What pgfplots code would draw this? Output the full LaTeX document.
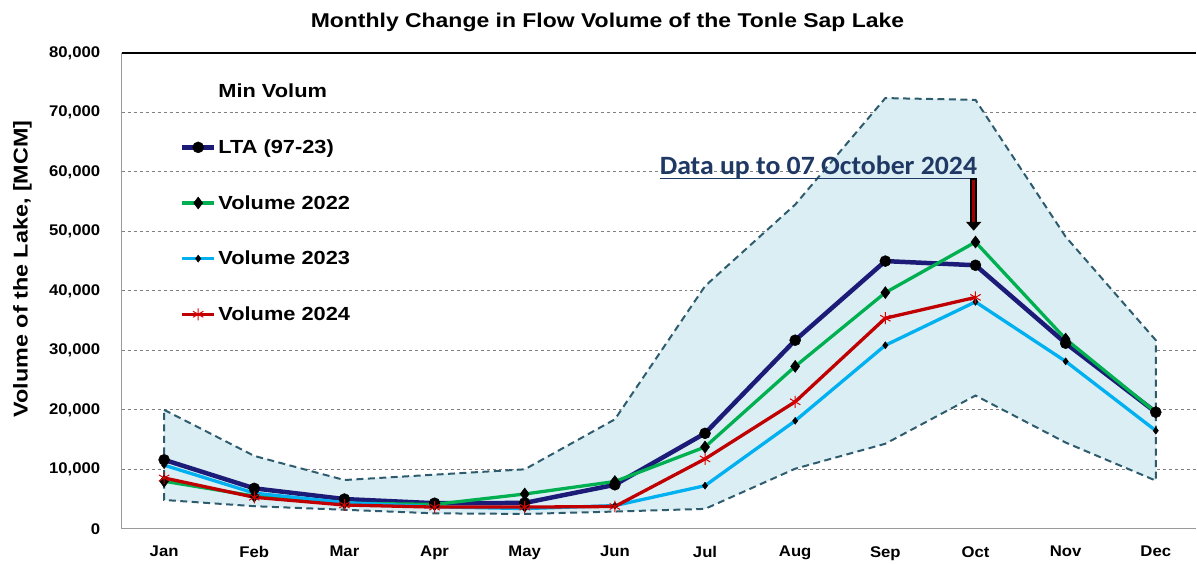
\documentclass[border=0pt]{standalone}
\usepackage{fontspec}
\setmainfont{Liberation Sans}
\newfontfamily\titlefont{Liberation Sans}[FakeStretch=1.15]
\newfontfamily\legfont{Liberation Sans}[FakeStretch=1.15]
\newfontfamily\ylabfont{Liberation Sans}[FakeStretch=1.17]
\newfontfamily\tickfont{Liberation Sans}[FakeStretch=1.08]
\newfontfamily\annfont{Carlito}[FakeStretch=1.05]
\usepackage{pgfplots}
\pgfplotsset{compat=1.18}
\usetikzlibrary{arrows.meta}
\definecolor{bandfill}{HTML}{DAEEF3}
\definecolor{banddash}{HTML}{2E5C6E}
\definecolor{ltacol}{HTML}{1C1C78}
\definecolor{c2022}{HTML}{00B050}
\definecolor{c2023}{HTML}{00B0F0}
\definecolor{c2024}{HTML}{C00000}
\definecolor{annot}{HTML}{1F3864}
\definecolor{arrred}{HTML}{A00000}
\begin{document}
\begin{tikzpicture}
\begin{axis}[
  scale only axis, width=1077pt, height=477pt,
  xmin=-0.47, xmax=11.45, ymin=0, ymax=80000,
  axis x line*=bottom, axis y line*=left,
  axis line style={draw=gray!80, line width=1.2pt},
  xtick={0,...,11},
  xticklabels={Jan,Feb,Mar,Apr,May,Jun,Jul,Aug,Sep,Oct,Nov,Dec},
  ytick={0,10000,...,80000},
  extra y ticks={80000}, extra y tick labels={},
  extra y tick style={grid style={solid, black, line width=1.3pt}},
  major tick length=0pt,
  ymajorgrids,
  grid style={dashed, gray, line width=0.9pt},
  scaled y ticks=false,
  tick label style={font=\tickfont\bfseries\fontsize{15.5}{18}\selectfont},
  xticklabel style={yshift=-14pt},
  yticklabel style={xshift=-18pt, /pgf/number format/.cd, fixed, 1000 sep={,}, assume math mode=true},
  title={Monthly Change in Flow Volume of the Tonle Sap Lake},
  title style={at={(axis description cs:0.452,1)}, anchor=base, yshift=19pt, font=\titlefont\bfseries\fontsize{20}{22}\selectfont},
  ylabel={Volume of the Lake, [MCM]},
  ylabel style={at={(axis description cs:-0.0924,0.546)}, anchor=center, rotate=0, font=\ylabfont\bfseries\fontsize{20}{22}\selectfont},
  legend style={at={(axis description cs:0.054,0.939)}, anchor=north west, draw=none, fill=none,
    font=\legfont\bfseries\fontsize{19}{20}\selectfont, row sep=36.5pt, inner sep=0pt,
    nodes={inner sep=2pt, anchor=west}},
  legend cell align=left,
  legend image code/.code={\draw[mark repeat=2,mark phase=2] plot coordinates {(0pt,0pt)(16pt,0pt)(32pt,0pt)};},
]
% envelope band (max then min reversed)
\addplot[forget plot, fill=bandfill, draw=banddash, line width=2pt, dash pattern=on 7pt off 4.5pt] coordinates {
(0,20000)(1,12250)(2,8200)(3,9100)(4,10000)(5,18400)(6,40800)(7,54500)(8,72400)(9,72100)(10,49100)(11,31700)
(11,8100)(10,14500)(9,22400)(8,14300)(7,10100)(6,3350)(5,2900)(4,2500)(3,2600)(2,3200)(1,3800)(0,4850)
} -- cycle;
\addlegendimage{empty legend}
\addlegendentry{Min Volum}
\addplot[ltacol, line width=4.5pt, mark=*, mark size=5.5pt, mark options={fill=black, draw=black, line width=0.5pt}] coordinates {
(0,11600)(1,6800)(2,5000)(3,4300)(4,4350)(5,7400)(6,16050)(7,31700)(8,45000)(9,44300)(10,31200)(11,19600)};
\addlegendentry{LTA (97-23)}
\addplot[c2022, line width=3.3pt, mark=diamond*, mark size=6pt, mark options={fill=black, draw=black, line width=0.5pt}] coordinates {
(0,8000)(1,5500)(2,4300)(3,4100)(4,5850)(5,7950)(6,13750)(7,27300)(8,39700)(9,48200)(10,31900)(11,19600)};
\addlegendentry{Volume 2022}
\addplot[c2023, line width=3.3pt, mark=diamond*, mark size=3.5pt, mark options={fill=black, draw=black, line width=0.5pt}] coordinates {
(0,10700)(1,6000)(2,4400)(3,3700)(4,3400)(5,3900)(6,7250)(7,18150)(8,30850)(9,38150)(10,28150)(11,16500)};
\addlegendentry{Volume 2023}
\addplot[c2024, line width=3.3pt, mark=asterisk, mark size=6pt, mark options={draw=red!85!black, line width=1pt}] coordinates {
(0,8550)(1,5300)(2,4000)(3,3650)(4,3650)(5,3750)(6,11750)(7,21350)(8,35400)(9,38900)};
\addlegendentry{Volume 2024}
% annotation
\node[anchor=base east, font=\annfont\bfseries\fontsize{26.5}{28}\selectfont, text=annot, inner sep=0pt] (ann) at (axis cs:9.02,59600) {Data up to 07 October 2024};
\draw[annot, line width=1.4pt] ([yshift=-4pt]ann.base west) -- ([yshift=-4pt]ann.base east);
\draw[black, line width=7pt, -{Triangle[width=15pt,length=9pt]}] (axis cs:8.98,59000) -- (axis cs:8.98,50100);
\draw[arrred, line width=3pt] (axis cs:8.98,58600) -- (axis cs:8.98,51600);
\coordinate (bl) at (rel axis cs:-0.1133,-0.0671);
\coordinate (tr) at (rel axis cs:0.998,1.1111);
\end{axis}
\path (bl) rectangle (tr);
\end{tikzpicture}
\end{document}
